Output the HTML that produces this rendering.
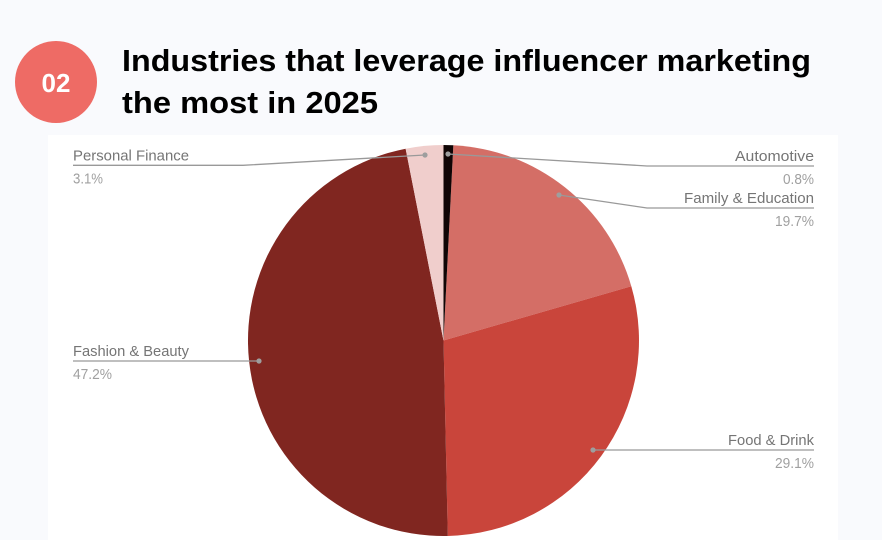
<!DOCTYPE html>
<html>
<head>
<meta charset="utf-8">
<style>
html,body{margin:0;padding:0;background:#f9fafd;}
svg{display:block;}
</style>
</head>
<body>
<svg width="882" height="540" viewBox="0 0 882 540" xmlns="http://www.w3.org/2000/svg">
  <rect x="0" y="0" width="882" height="540" fill="#f9fafd"/>
  <!-- badge -->
  <circle cx="56" cy="82" r="41" fill="#ee6b65"/>
  <text x="56" y="92" text-anchor="middle" font-family="Liberation Sans, sans-serif" font-weight="bold" font-size="26" fill="#ffffff">02</text>
  <!-- title -->
  <text x="122" y="71" font-family="Liberation Sans, sans-serif" font-weight="bold" font-size="31" fill="#000" textLength="689" lengthAdjust="spacingAndGlyphs">Industries that leverage influencer marketing</text>
  <text x="122" y="113" font-family="Liberation Sans, sans-serif" font-weight="bold" font-size="31" fill="#000" textLength="256" lengthAdjust="spacingAndGlyphs">the most in 2025</text>
  <!-- chart area -->
  <rect x="48" y="135" width="790" height="405" fill="#ffffff"/>
  <!-- pie -->
  <g>
    <path d="M443.5,340.5 L453.33,145.25 A195.5,195.5 0 0 1 631.30,286.19 Z" fill="#d46e66"/>
    <path d="M443.5,340.5 L631.30,286.19 A195.5,195.5 0 0 1 447.80,535.95 Z" fill="#c9453b"/>
    <path d="M443.5,340.5 L447.80,535.95 A195.5,195.5 0 0 1 405.62,148.70 Z" fill="#802620"/>
    <path d="M443.5,340.5 L405.62,148.70 A195.5,195.5 0 0 1 443.5,145 Z" fill="#f0cecc"/>
    <path d="M443.5,340.5 L443.5,145 A195.5,195.5 0 0 1 453.33,145.25 Z" fill="#100505"/>
  </g>
  <!-- leader lines -->
  <g stroke="#999" stroke-width="1.3" fill="none">
    <polyline points="73,165.3 243,165.3 425,155"/>
    <polyline points="448,154 647,166 814,166"/>
    <polyline points="559,195 647,208 814,208"/>
    <polyline points="593,450 814,450"/>
    <polyline points="73,361 259,361"/>
  </g>
  <g fill="#9e9e9e">
    <circle cx="425" cy="155" r="2.6"/>
    <circle cx="448" cy="154" r="2.6"/>
    <circle cx="559" cy="195" r="2.6"/>
    <circle cx="593" cy="450" r="2.6"/>
    <circle cx="259" cy="361" r="2.6"/>
  </g>
  <!-- labels -->
  <g font-family="Liberation Sans, sans-serif" font-size="14.5">
    <text x="73" y="160.5" fill="#757575" textLength="116" lengthAdjust="spacingAndGlyphs">Personal Finance</text>
    <text x="73" y="183.5" fill="#a0a0a0" textLength="30" lengthAdjust="spacingAndGlyphs">3.1%</text>
    <text x="73" y="356" fill="#757575" textLength="116" lengthAdjust="spacingAndGlyphs">Fashion &amp; Beauty</text>
    <text x="73" y="379" fill="#a0a0a0" textLength="39" lengthAdjust="spacingAndGlyphs">47.2%</text>
    <text x="735" y="161" fill="#757575" textLength="79" lengthAdjust="spacingAndGlyphs">Automotive</text>
    <text x="783" y="184" fill="#a0a0a0" textLength="31" lengthAdjust="spacingAndGlyphs">0.8%</text>
    <text x="684" y="203" fill="#757575" textLength="130" lengthAdjust="spacingAndGlyphs">Family &amp; Education</text>
    <text x="775" y="226" fill="#a0a0a0" textLength="39" lengthAdjust="spacingAndGlyphs">19.7%</text>
    <text x="728" y="445" fill="#757575" textLength="86" lengthAdjust="spacingAndGlyphs">Food &amp; Drink</text>
    <text x="775" y="468" fill="#a0a0a0" textLength="39" lengthAdjust="spacingAndGlyphs">29.1%</text>
  </g>
</svg>
</body>
</html>
